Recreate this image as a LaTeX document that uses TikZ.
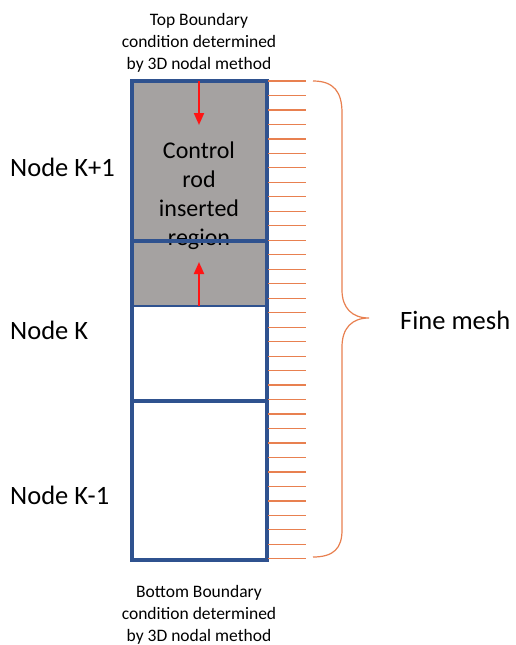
\documentclass[tikz,border=0pt]{standalone}
\usepackage{fontspec}
\setmainfont{Carlito}
\usetikzlibrary{arrows.meta}
\definecolor{boxblue}{RGB}{47,82,143}
\definecolor{rodgray}{RGB}{165,162,161}
\definecolor{meshorange}{RGB}{232,128,80}
\definecolor{arrred}{RGB}{255,20,20}
\tikzset{
  x=1pt, y=-1pt,
  region/.style={draw=boxblue, line width=3.2pt, minimum width=135pt, inner sep=0pt, outer sep=0pt},
  biglabel/.style={font=\fontsize{26.5}{32}\selectfont, inner sep=0pt, anchor=west},
  smalllabel/.style={font=\fontsize{17.5}{22}\selectfont, align=center, inner sep=0pt},
  rodarrow/.style={draw=arrred, line width=2pt, -{Triangle[length=12pt,width=10pt]}},
  meshtick/.style={draw=meshorange, line width=1.2pt},
  bracestyle/.style={draw=meshorange, line width=1.2pt}
}
\begin{document}
\begin{tikzpicture}
\useasboundingbox (0,0) rectangle (515,645);
% gray control rod region
\fill[rodgray] (132,81) rectangle (267,306);
% regions
\node[region, minimum height=160pt, anchor=north west] (kp1) at (132,81) {};
\node[region, minimum height=160pt, anchor=north west] (k) at (132,241) {};
\node[region, minimum height=159pt, anchor=north west] (km1) at (132,401) {};
\draw[boxblue, line width=2.4pt] (k.west |- 0,306) coordinate (rodl) -- (k.east |- 0,306) coordinate (rodr);
% text inside
\node[font=\fontsize{24}{29}\selectfont, align=center, inner sep=0pt] (rodtext) at (199,196) {Control\\rod\\inserted\\region};
% redraw separator over text as in reference
\draw[boxblue, line width=3.2pt] (kp1.south west) -- (kp1.south east);
% mesh ticks
\foreach \i in {0,...,33}{
  \draw[meshtick] (268,{81+\i*14.48}) -- (306,{81+\i*14.48});
}
% brace
\draw[bracestyle] (313,81) .. controls (334,81) and (342,92) .. (342,113) -- (342,290)
  .. controls (342,308) and (352,318) .. (369,318)
  .. controls (352,318) and (342,328) .. (342,347) -- (342,530)
  .. controls (342,548) and (334,557) .. (313,557);
\node[biglabel] (fine) at (400,320) {Fine mesh};
% node labels
\node[biglabel] (lkp1) at (10,167) {Node K+1};
\node[biglabel] (lk) at (10,330) {Node K};
\node[biglabel] (lkm1) at (10,495) {Node K-1};
% boundary texts
\node[smalllabel] (top) at (199,43) {Top Boundary\\condition determined\\by 3D nodal method};
\node[smalllabel] (bot) at (199,615) {Bottom Boundary\\condition determined\\by 3D nodal method};
% arrows
\coordinate (a1s) at (199,81);
\coordinate (a1e) at (199,125);
\coordinate (a2s) at (199,306);
\coordinate (a2e) at (199,262);
\draw[rodarrow] (a1s) -- (a1e);
\draw[rodarrow] (a2s) -- (a2e);
\end{tikzpicture}
\end{document}
